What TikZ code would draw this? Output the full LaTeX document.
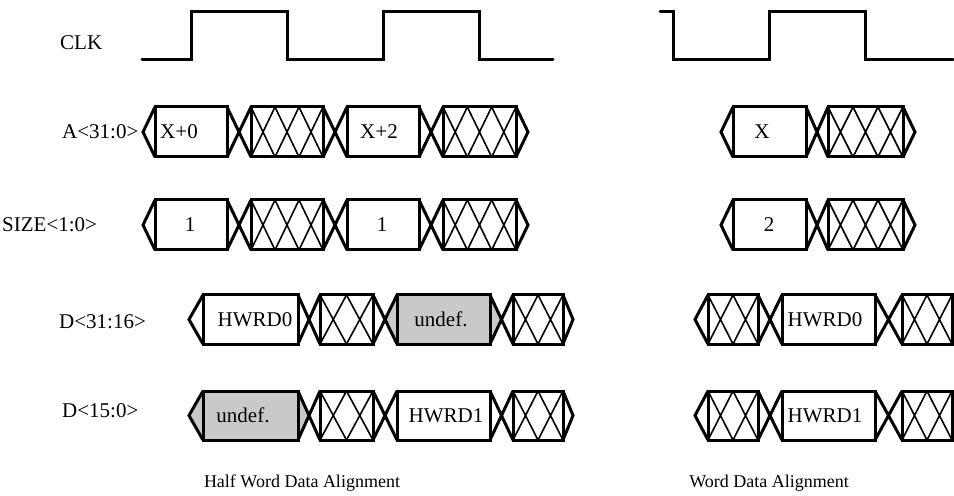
\documentclass[tikz,border=0pt]{standalone}
\usepackage{fontspec}
\setmainfont{Liberation Serif}
\definecolor{undefgray}{RGB}{200,201,203}
\newcommand\tdltip[4]{\draw[bus] (#2,#3) -- (#1,{(#3+#4)/2}) -- (#2,#4);}
\newcommand\tdrtip[4]{\draw[bus] (#1,#3) -- (#2,{(#3+#4)/2}) -- (#1,#4);}
\newcommand\tdtrans[4]{\draw[bus] (#1,#3) -- (#2,#4) (#1,#4) -- (#2,#3);}
\newcommand\tdhatch[5]{%
  \pgfmathsetmacro\tdw{(#2-#1)/#5}%
  \foreach \i in {1,...,#5}{%
    \draw[hatch] ({#1+(\i-1)*\tdw},#3) -- ({#1+\i*\tdw},#4)
                 ({#1+(\i-1)*\tdw},#4) -- ({#1+\i*\tdw},#3);}%
  \draw[bus] (#1,#3) rectangle (#2,#4);}
\newcommand\tdbox[8]{% name x1 x2 yt yb textx text fill
  \draw[bus,fill=#8] (#2,#4) rectangle (#3,#5);
  \node[boxtext] (#1) at (#6,{(#4+#5)/2+7}) {#7};}
\newcommand\tdgray[6]{% xl a b xr yt yb
  \fill[undefgray] (#1,{(#5+#6)/2}) -- (#2,#5) -- (#3,#5) -- (#4,{(#5+#6)/2}) -- (#3,#6) -- (#2,#6) -- cycle;}
\begin{document}
\begin{tikzpicture}[x=1bp,y=-1bp,
  bus/.style={line width=3bp},
  hatch/.style={line width=1.6bp},
  clk/.style={line width=3bp,line cap=round},
  boxtext/.style={anchor=base,inner sep=0pt,font=\fontsize{21bp}{25bp}\selectfont},
  sig/.style={anchor=base west,inner sep=0pt,font=\fontsize{21bp}{25bp}\selectfont},
  captext/.style={anchor=base,inner sep=0pt,font=\fontsize{18bp}{22bp}\selectfont}]
\useasboundingbox (0,0) rectangle (954,496);
% signal names
\node[sig] (lclk) at (60,50) {CLK};
\node[sig] (la) at (62,139) {A<31:0>};
\node[sig] (lsize) at (2,232) {SIZE<1:0>};
\node[sig] (ld31) at (59,329) {D<31:16>};
\node[sig] (ld15) at (62,417) {D<15:0>};
% clocks
\draw[clk] (142,60) -- (191,60) -- (191,12) -- (287,12) -- (287,60) -- (383,60) -- (383,12) -- (479,12) -- (479,60) -- (553,60);
\draw[clk] (660,12) -- (673,12) -- (673,60) -- (769,60) -- (769,12) -- (865,12) -- (865,60) -- (953,60);
% ---------- A row, left
\tdltip{143}{155}{107}{157}
\tdbox{a0}{155}{227}{107}{157}{179}{X+0}{white}
\tdtrans{227}{251}{107}{157}
\tdhatch{251}{323}{107}{157}{3}
\tdtrans{323}{347}{107}{157}
\tdbox{a2}{347}{419}{107}{157}{379}{X+2}{white}
\tdtrans{419}{443}{107}{157}
\tdhatch{443}{516}{107}{157}{3}
\tdrtip{516}{528}{107}{157}
% ---------- SIZE row, left
\tdltip{143}{155}{200}{250}
\tdbox{s0}{155}{227}{200}{250}{190}{1}{white}
\tdtrans{227}{251}{200}{250}
\tdhatch{251}{323}{200}{250}{3}
\tdtrans{323}{347}{200}{250}
\tdbox{s2}{347}{419}{200}{250}{382}{1}{white}
\tdtrans{419}{443}{200}{250}
\tdhatch{443}{516}{200}{250}{3}
\tdrtip{516}{528}{200}{250}
% ---------- D<31:16> row, left
\tdgray{385}{397}{490}{501}{295}{344}
\tdltip{189}{203}{295}{344}
\tdbox{d31a}{203}{298}{295}{344}{255}{HWRD0}{white}
\tdtrans{298}{320}{295}{344}
\tdhatch{320}{373}{295}{344}{2}
\tdtrans{373}{397}{295}{344}
\tdbox{d31b}{397}{490}{295}{344}{441}{undef.}{undefgray}
\tdtrans{490}{513}{295}{344}
\tdhatch{513}{563}{295}{344}{2}
\tdrtip{563}{573}{295}{344}
% ---------- D<15:0> row, left
\tdgray{189}{203}{298}{309}{391}{440}
\tdltip{189}{203}{391}{440}
\tdbox{d15a}{203}{298}{391}{440}{243}{undef.}{undefgray}
\tdtrans{298}{320}{391}{440}
\tdhatch{320}{373}{391}{440}{2}
\tdtrans{373}{397}{391}{440}
\tdbox{d15b}{397}{490}{391}{440}{446}{HWRD1}{white}
\tdtrans{490}{513}{391}{440}
\tdhatch{513}{563}{391}{440}{2}
\tdrtip{563}{573}{391}{440}
% ---------- right side
\tdltip{721}{733}{107}{157}
\tdbox{ra}{733}{806}{107}{157}{762}{X}{white}
\tdtrans{806}{828}{107}{157}
\tdhatch{828}{903}{107}{157}{3}
\tdrtip{903}{915}{107}{157}
\tdltip{721}{733}{200}{250}
\tdbox{rs}{733}{806}{200}{250}{769}{2}{white}
\tdtrans{806}{828}{200}{250}
\tdhatch{828}{903}{200}{250}{3}
\tdrtip{903}{915}{200}{250}
\tdltip{695}{708}{295}{344}
\tdhatch{708}{758}{295}{344}{2}
\tdtrans{758}{782}{295}{344}
\tdbox{rd31}{782}{875}{295}{344}{825}{HWRD0}{white}
\tdtrans{875}{902}{295}{344}
\tdhatch{902}{952}{295}{344}{2}
\tdltip{695}{708}{391}{440}
\tdhatch{708}{758}{391}{440}{2}
\tdtrans{758}{782}{391}{440}
\tdbox{rd15}{782}{875}{391}{440}{825}{HWRD1}{white}
\tdtrans{875}{902}{391}{440}
\tdhatch{902}{952}{391}{440}{2}
% captions
\node[captext] (c1) at (302,487) {Half Word Data Alignment};
\node[captext] (c2) at (769,487) {Word Data Alignment};
\end{tikzpicture}
\end{document}
